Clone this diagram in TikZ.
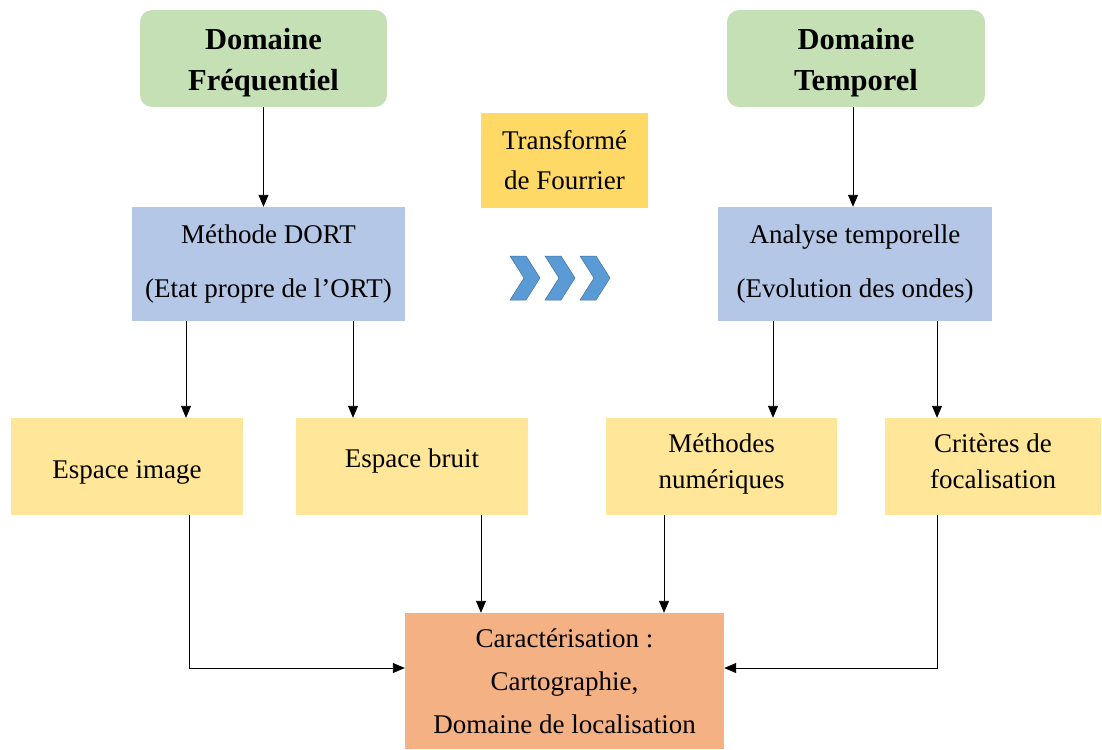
\documentclass[tikz,border=0pt]{standalone}
\usepackage{fontspec}
\setmainfont{Liberation Serif}
\usetikzlibrary{arrows.meta}
\definecolor{vert}{HTML}{C5E0B4}
\definecolor{bleu}{HTML}{B4C7E7}
\definecolor{jaune}{HTML}{FFE699}
\definecolor{orjaune}{HTML}{FFD966}
\definecolor{saumon}{HTML}{F4B183}
\definecolor{chev}{HTML}{5B9BD5}
\definecolor{chevb}{HTML}{41719C}
\tikzset{
  box/.style={inner sep=0pt, align=center, font=\fontsize{27}{36}\selectfont},
  titlebox/.style={box, fill=vert, rounded corners=12pt},
  titletext/.style={box, font=\fontsize{30.5}{41}\selectfont\bfseries},
  ybox/.style={box, fill=jaune, minimum height=97pt},
  arr/.style={-{Triangle[length=12pt,width=10pt]}, line width=0.9pt, black},
  chevron/.style={fill=chev, draw=chevb, line width=0.5pt}
}
\begin{document}
\begin{tikzpicture}[x=1pt,y=-1pt]
\useasboundingbox (0,0) rectangle (1102,749);
% boxes
\node[titlebox, minimum width=247pt, minimum height=97pt] (g1) at (263.5,58.5) {};
\node[titlebox, minimum width=258pt, minimum height=97pt] (g2) at (856,58.5) {};
\node[titletext] (g1t) at (263.5,63) {Domaine\\Fréquentiel};
\node[titletext] (g2t) at (856,63) {Domaine\\Temporel};
\node[box, fill=orjaune, minimum width=167pt, minimum height=95pt, font=\fontsize{27}{40}\selectfont] (tf) at (564.5,160.5) {Transformé\\de Fourrier};
\node[box, fill=bleu, minimum width=273pt, minimum height=114pt, font=\fontsize{27}{54}\selectfont] (dort) at (268.5,264) {Méthode DORT\\(Etat propre de l’ORT)};
\node[box, fill=bleu, minimum width=274pt, minimum height=114pt, font=\fontsize{27}{54}\selectfont] (ana) at (855,264) {Analyse temporelle\\(Evolution des ondes)};
\node[ybox, minimum width=232pt] (ei) at (127,466.5) {};
\node[box] (eit) at (127,472) {Espace image};
\node[ybox, minimum width=232pt] (eb) at (412,466.5) {};
\node[box] (ebt) at (412,461) {Espace bruit};
\node[ybox, minimum width=231pt] (mn) at (721.5,466.5) {};
\node[box] (mnt) at (721.5,463.5) {Méthodes\\numériques};
\node[ybox, minimum width=216pt] (cf) at (993,466.5) {};
\node[box] (cft) at (993,461.5) {Critères de\\focalisation};
\node[box, fill=saumon, minimum width=319pt, minimum height=136pt, font=\fontsize{27}{43}\selectfont] (car) at (564.5,681) {Caractérisation :\\Cartographie,\\Domaine de localisation};
% chevrons
\foreach \cx in {510,545,580}{
  \path[chevron] (\cx,256) -- ++(16,0) -- ++(14,22) -- ++(-14,22) -- ++(-16,0) -- ++(14,-22) -- cycle;
}
% arrows
\draw[arr] (g1.south) -- (g1.south |- dort.north);
\draw[arr] (853,0 |- g2.south) -- (853,0 |- ana.north);
\draw[arr] (186,0 |- dort.south) -- (186,0 |- ei.north);
\draw[arr] (353,0 |- dort.south) -- (353,0 |- eb.north);
\draw[arr] (773,0 |- ana.south) -- (773,0 |- mn.north);
\draw[arr] (937,0 |- ana.south) -- (937,0 |- cf.north);
\draw[arr] (189,0 |- ei.south) |- (car.west |- 0,668);
\draw[arr] (481,0 |- eb.south) -- (481,0 |- car.north);
\draw[arr] (664,0 |- mn.south) -- (664,0 |- car.north);
\draw[arr] (937,0 |- cf.south) |- (car.east |- 0,668);
\end{tikzpicture}
\end{document}
